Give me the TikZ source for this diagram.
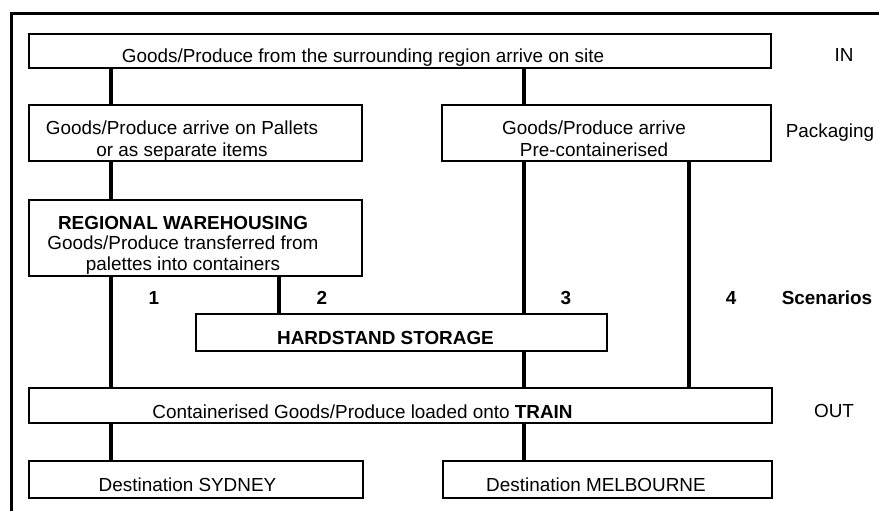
\documentclass[tikz,border=0pt]{standalone}
\usepackage{fontspec}
\setmainfont{Liberation Sans}
\begin{document}
\begin{tikzpicture}[x=1pt,y=-1pt,
  every node/.style={inner sep=0pt,outer sep=0pt,font=\fontsize{18.9}{22}\selectfont},
  box/.style={draw,line width=1.3pt,rectangle},
  txt/.style={anchor=base},
  conn/.style={line width=3.6pt},
  frame/.style={line width=3pt}]
\useasboundingbox (0,0) rectangle (879,511);
% frame
\coordinate (fA) at (11,515);
\coordinate (fB) at (11,14);
\coordinate (fC) at (885,14);
\draw[frame] (fA) -- (fB) -- (fC);
% boxes
\node[box,minimum width=742pt,minimum height=34pt] (top) at (400,51) {};
\node[box,minimum width=333pt,minimum height=56pt] (pal) at (195.5,133) {};
\node[box,minimum width=329pt,minimum height=56pt] (pre) at (606.5,133) {};
\node[box,minimum width=333pt,minimum height=76pt] (ware) at (195.5,238) {};
\node[box,minimum width=411pt,minimum height=37pt] (hard) at (401.5,332.5) {};
\node[box,minimum width=743pt,minimum height=35pt] (train) at (400.5,405.5) {};
\node[box,minimum width=334pt,minimum height=37pt] (syd) at (196,479.5) {};
\node[box,minimum width=329pt,minimum height=37pt] (mel) at (607.5,479.5) {};
% texts
\node[txt] (ttop) at (363,63) {Goods/Produce from the surrounding region arrive on site};
\node[txt] (tpal1) at (182,135) {Goods/Produce arrive on Pallets};
\node[txt] (tpal2) at (182,156) {or as separate items};
\node[txt] (tpre1) at (594,135) {Goods/Produce arrive};
\node[txt] (tpre2) at (594,156) {Pre-containerised};
\node[txt] (tware1) at (183,229) {\bfseries REGIONAL WAREHOUSING};
\node[txt] (tware2) at (183,249.5) {Goods/Produce transferred from};
\node[txt] (tware3) at (183,270) {palettes into containers};
\node[txt] (thard) at (385.5,344) {\bfseries HARDSTAND STORAGE};
\node[txt] (ttrain) at (362.5,418) {Containerised Goods/Produce loaded onto \textbf{TRAIN}};
\node[txt] (tsyd) at (187.5,491) {Destination SYDNEY};
\node[txt] (tmel) at (596,491) {Destination MELBOURNE};
% side labels
\node[txt] (lin) at (844,62) {IN};
\node[txt] (lpack) at (830,138) {Packaging};
\node[txt] (lscen) at (827,304) {\bfseries Scenarios};
\node[txt] (lout) at (834,417) {OUT};
% scenario numbers
\node[txt] (n1) at (154,304) {\bfseries 1};
\node[txt] (n2) at (322,304) {\bfseries 2};
\node[txt] (n3) at (566,304) {\bfseries 3};
\node[txt] (n4) at (731,304) {\bfseries 4};
% connector columns
\coordinate (xa) at (111,0);
\coordinate (xb) at (279,0);
\coordinate (xc) at (524,0);
\coordinate (xd) at (689,0);
\draw[conn] (top.south -| xa) -- (pal.north -| xa);
\draw[conn] (pal.south -| xa) -- (ware.north -| xa);
\draw[conn] (ware.south -| xa) -- (train.north -| xa);
\draw[conn] (train.south -| xa) -- (syd.north -| xa);
\draw[conn] (ware.south -| xb) -- (hard.north -| xb);
\draw[conn] (top.south -| xc) -- (pre.north -| xc);
\draw[conn] (pre.south -| xc) -- (hard.north -| xc);
\draw[conn] (hard.south -| xc) -- (train.north -| xc);
\draw[conn] (train.south -| xc) -- (mel.north -| xc);
\draw[conn] (pre.south -| xd) -- (train.north -| xd);
\end{tikzpicture}
\end{document}
